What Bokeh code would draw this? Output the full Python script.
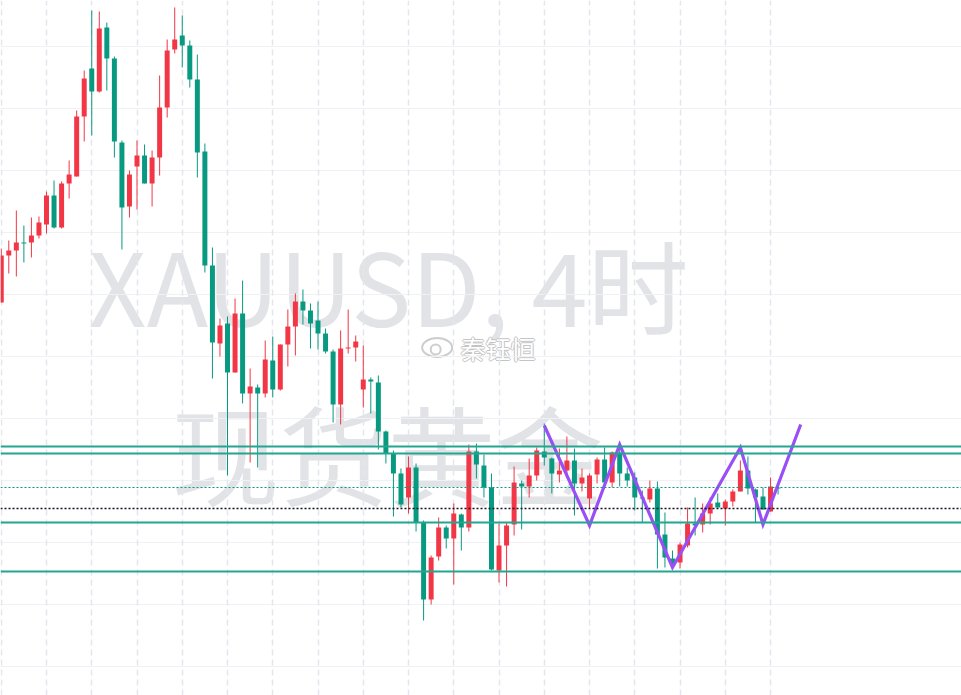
from bokeh.plotting import figure
from bokeh.models import ColumnDataSource, Span, Range1d, Grid, FixedTicker
from bokeh.core.properties import value
from bokeh.embed import file_html
from bokeh.resources import INLINE

# ---- data (XAUUSD 4h candles) ----
opens = [2199, 2222.5, 2225, 2229, 2229, 2232.5, 2238, 2252.5, 2236.5, 2258.5,
         2262, 2292, 2316, 2304.5, 2336.5, 2321, 2279, 2247, 2267, 2272.5,
         2258.5, 2271.5, 2296.5, 2325.5, 2332.5, 2327.5, 2310.5, 2274.5, 2217.5, 2178.5,
         2188.5, 2164, 2193.5, 2153.5, 2156.5, 2153.5, 2170, 2155.5, 2178, 2187,
         2199.5, 2195, 2190, 2183.5, 2174.5, 2148, 2176, 2176.5, 2155.5, 2160.5,
         2159, 2134.5, 2123.5, 2113.5, 2101.5, 2116.5, 2089, 2050.5, 2072, 2086.5,
         2081, 2093, 2086.5, 2124.5, 2117.5, 2106.5, 2065, 2077.5, 2088, 2108.5,
         2107, 2112.5, 2124.5, 2121, 2113, 2115, 2120, 2108.5, 2101, 2113,
         2120.5, 2109, 2124, 2113.5, 2111.5, 2101.5, 2100.5, 2106, 2083, 2071,
         2069, 2077.5, 2088.5, 2088, 2093.5, 2099, 2096, 2099.5, 2104.5, 2115,
         2105.5, 2102, 2094.5, 2106.5]
highs = [2226, 2230, 2245, 2237.5, 2241.5, 2242, 2254.5, 2260, 2259.5, 2270,
         2295, 2315, 2345, 2344.5, 2339, 2322, 2280, 2265, 2280, 2278,
         2275, 2312.5, 2330.5, 2346.5, 2342.5, 2330, 2323, 2278.5, 2226.5, 2191,
         2192, 2201, 2210, 2166, 2158, 2180, 2182, 2178, 2195.5, 2203.5,
         2205.5, 2198.5, 2199.5, 2186, 2175.5, 2185, 2195.5, 2182.5, 2177.5, 2161.5,
         2162.5, 2135, 2125, 2116, 2122, 2118.5, 2090, 2072.5, 2091.5, 2087.5,
         2098.5, 2093.5, 2128, 2128.5, 2123, 2113.5, 2088.5, 2089, 2117, 2110,
         2121, 2126.5, 2138.5, 2121.5, 2126, 2132, 2126, 2116, 2113.5, 2121.5,
         2126.5, 2124.5, 2126.5, 2116.5, 2114, 2105, 2110, 2109.5, 2094, 2075,
         2079, 2096.5, 2101.5, 2098.5, 2101.5, 2103.5, 2100.5, 2105.5, 2120, 2122,
         2106, 2106.5, 2111.5, 2107]
lows = [2199, 2213.5, 2212, 2219, 2221.5, 2231, 2233.5, 2236, 2236, 2251,
        2262, 2279.5, 2282.5, 2304, 2305, 2271.5, 2225.5, 2241.5, 2245.5, 2258.5,
        2247, 2262.5, 2291.5, 2323.5, 2316.5, 2306.5, 2261.5, 2214, 2161, 2172,
        2112.5, 2164, 2148.5, 2119, 2116.5, 2151.5, 2151.5, 2155, 2167, 2172.5,
        2188, 2176, 2175.5, 2173.5, 2139, 2138, 2173.5, 2169.5, 2146.5, 2143.5,
        2125.5, 2118.5, 2092, 2096.5, 2093.5, 2084.5, 2040, 2048, 2070, 2076,
        2058, 2075, 2084.5, 2111, 2101.5, 2065, 2059, 2057, 2082.5, 2085.5,
        2101.5, 2110, 2117.5, 2103.5, 2109, 2111.5, 2092.5, 2104.5, 2096, 2108.5,
        2109, 2106.5, 2107, 2107, 2095, 2089, 2099, 2066, 2066.5, 2066.5,
        2066, 2076.5, 2082.5, 2084, 2088, 2096.5, 2087.5, 2097, 2104.5, 2103,
        2089, 2095.5, 2094.5, 2103]
closes = [2222.5, 2225, 2229, 2228.5, 2232.5, 2239, 2252.5, 2236.5, 2258.5, 2263,
          2292, 2311, 2304.5, 2336, 2321, 2279.5, 2246.5, 2263, 2272.5, 2258.5,
          2271.5, 2296.5, 2325, 2330.5, 2327.5, 2310.5, 2274, 2217.5, 2179, 2187.5,
          2164, 2193.5, 2153.5, 2157, 2153.5, 2170.5, 2155.5, 2178, 2187, 2199.5,
          2195, 2188.5, 2183.5, 2174.5, 2148, 2176, 2176.5, 2179.5, 2160.5, 2159.5,
          2134.5, 2123.5, 2113.5, 2098, 2116.5, 2089, 2050.5, 2071.5, 2086.5, 2081,
          2093.5, 2086.5, 2124.5, 2118, 2106.5, 2065.5, 2077.5, 2087.5, 2109, 2107,
          2112.5, 2125, 2121.5, 2113.5, 2115, 2120, 2108.5, 2111.5, 2112.5, 2120.5,
          2109, 2124, 2113.5, 2110, 2101.5, 2101, 2106, 2083, 2071.5, 2068.5,
          2078, 2088.5, 2087.5, 2093.5, 2098.5, 2096.5, 2099.5, 2104.5, 2115, 2106,
          2101.5, 2095.5, 2107, 2106]

# horizontal levels
level_lines = [2127, 2123.5, 2089, 2064.5]
last_price = 2106.5
ref_price = 2096

# purple zigzag (bar index, price)
zz_x = [72, 78, 82, 89, 98, 101, 106]
zz_y = [2137.5, 2087.5, 2128, 2066.5, 2126.5, 2088, 2138]

# grid positions
x_grid = [0, 6, 12, 18, 24, 30, 36, 42, 48, 54, 60, 66, 72, 78, 84, 90, 96, 102]
y_grid = [2327, 2296, 2265, 2234, 2203, 2172, 2141, 2110, 2079, 2048, 2017]

watermark_1 = "XAUUSD, 4时"
watermark_2 = "现货黄金"
author = "秦钰恒"

UP = "#f23645"
DOWN = "#089981"

idx = list(range(len(opens)))
colors = [UP if c >= o else DOWN for o, c in zip(opens, closes)]
tops = [max(o, c) for o, c in zip(opens, closes)]
bots = [min(o, c) for o, c in zip(opens, closes)]
tops = [t if t - b >= 0.5 else b + 0.5 for t, b in zip(tops, bots)]

src = ColumnDataSource(dict(x=idx, o=opens, h=highs, l=lows, c=closes,
                            top=tops, bot=bots, color=colors))

p = figure(width=961, height=695,
           x_range=Range1d(-0.0994, 127.32), y_range=Range1d(2002.5, 2350),
           output_backend="svg", toolbar_location=None,
           x_axis_location=None, y_axis_location=None,
           min_border=0, outline_line_color=None,
           background_fill_color="white", border_fill_color="white")

# drop default grids, add our own
p.center = [r for r in p.center if not isinstance(r, Grid)]
p.add_layout(Grid(dimension=1, ticker=FixedTicker(ticks=y_grid),
                  grid_line_color="#eff1f5", grid_line_width=1))
p.add_layout(Grid(dimension=0, ticker=FixedTicker(ticks=x_grid),
                  grid_line_color="#e3e6ec", grid_line_width=1.5,
                  grid_line_dash="6 4"))

# watermark
p.text(x=[51.35], y=[2208.75], text=[watermark_1],
       text_font=value("Noto Sans CJK SC"), text_font_size="101px",
       text_font_style="normal",
       text_color="#e2e3e7", text_align="center", text_baseline="middle",
       level="image")
p.text(x=[51.2], y=[2124.75], text=[watermark_2],
       text_font=value("Noto Sans CJK SC"), text_font_size="108px",
       text_font_style="normal",
       text_color="#e2e3e7", text_align="center", text_baseline="middle",
       level="image")

# author badge
p.ellipse(x=[57.8], y=[2176.5], width=30, height=19, width_units="screen",
          height_units="screen", fill_color="white", line_color="#cdcdcd",
          line_width=2, level="image")
p.scatter(x=[57.6], y=[2175.5], size=10, marker="circle", fill_color="white",
          line_color="#cdcdcd", line_width=2, level="image")
for dx, dy in [(-1, 0), (1, 0), (0, -1), (0, 1)]:
    p.text(x=[60.9], y=[2176.5], text=[author], x_offset=dx, y_offset=dy,
           text_font=value("Noto Sans CJK SC"), text_font_size="25px",
           text_color="#c4c4c4", text_align="left", text_baseline="middle",
           level="image")
p.text(x=[60.9], y=[2176.5], text=[author],
       text_font=value("Noto Sans CJK SC"), text_font_size="25px",
       text_color="white", text_align="left", text_baseline="middle",
       level="image")

# candles
p.segment(x0="x", y0="l", x1="x", y1="h", color="color", line_width=1, source=src)
p.vbar(x="x", top="top", bottom="bot", width=0.66, fill_color="color",
       line_color=None, source=src)

# level lines
for lv in level_lines:
    p.add_layout(Span(location=lv, dimension="width", line_color="#22a68f",
                      line_width=2.2))
p.add_layout(Span(location=last_price, dimension="width", line_color=DOWN,
                  line_width=1.2, line_dash="2 2"))
p.add_layout(Span(location=ref_price, dimension="width", line_color="#131722",
                  line_width=1.3, line_dash="2 2"))

# zigzag
p.line(x=zz_x, y=zz_y, line_color="#9a4ff6", line_width=3.2, line_join="miter")

open("out.html", "w").write(file_html(p, INLINE))
